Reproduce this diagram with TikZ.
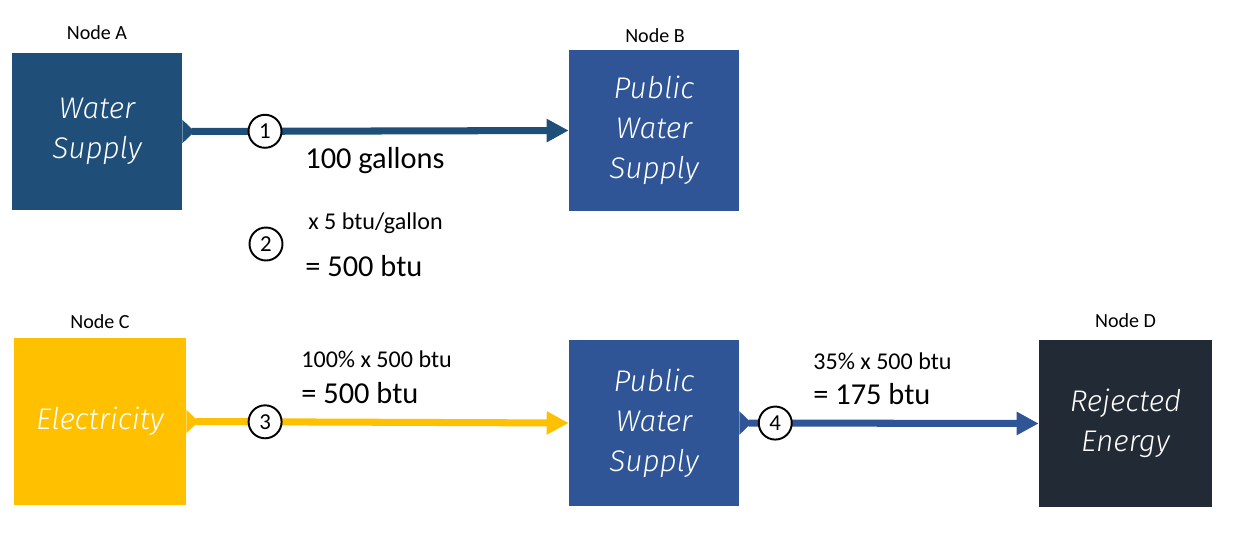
\documentclass[tikz,border=0pt]{standalone}
\usepackage{fontspec}
\setmainfont{Carlito}
\newfontfamily\boxfont{Fira Sans Light Italic}
\usetikzlibrary{arrows.meta}
\definecolor{waterdark}{RGB}{31,78,121}
\definecolor{pwsblue}{RGB}{47,85,151}
\definecolor{elecyellow}{RGB}{255,192,0}
\definecolor{rejdark}{RGB}{34,42,53}

\tikzset{
  box/.style={draw=none, inner sep=0pt, align=center, text=white,
    font=\boxfont\fontsize{17}{22.8}\selectfont},
  nodelabel/.style={anchor=base, inner sep=0pt, font=\fontsize{11.4}{13}\selectfont},
  flow/.style={line width=4pt,
    {Triangle[reversed,length=7pt,width=13pt]}-{Triangle[length=12.5pt,width=12.5pt]}},
  stepnum/.style={circle, draw=black, text=black, line width=1.1pt, fill=white,
    minimum size=0.66cm, inner sep=0pt, font=\fontsize{13}{15}\selectfont},
  calcsmall/.style={anchor=base west, inner sep=0pt, font=\fontsize{13.7}{16}\selectfont},
  calcbig/.style={anchor=base west, inner sep=0pt, font=\fontsize{17.3}{20}\selectfont},
}

\begin{document}
\begin{tikzpicture}[x=0.02cm, y=-0.02cm]
  \useasboundingbox (0,0) rectangle (1237,534);
  %boxes
  \node[box, fill=waterdark, minimum width=3.4cm, minimum height=3.14cm] (A) at (97,131.5) {Water\\Supply};
  \node[box, fill=pwsblue, minimum width=3.4cm, minimum height=3.22cm] (B) at (654,130.5) {Public\\Water\\Supply};
  \node[box, fill=elecyellow, minimum width=3.44cm, minimum height=3.34cm] (C) at (100,421.5) {Electricity};
  \node[box, fill=pwsblue, minimum width=3.4cm, minimum height=3.32cm] (P) at (654,423) {Public\\Water\\Supply};
  \node[box, fill=rejdark, minimum width=3.46cm, minimum height=3.34cm] (D) at (1125.5,423.5) {Rejected\\Energy};

  %labels above
  \node[nodelabel] (labA) at (97,39) {Node A};
  \node[nodelabel] (labB) at (655,42) {Node B};
  \node[nodelabel] (labC) at (100,328) {Node C};
  \node[nodelabel] (labD) at (1125.5,327) {Node D};

  %flows
  \draw[flow, waterdark] (A.east) -- node[stepnum, pos=0.214] (n1) {1} (B.west);
  \draw[flow, elecyellow] (C.east) -- node[stepnum, pos=0.206] (n3) {3} (P.west);
  \draw[flow, pwsblue] (P.east) -- node[stepnum, pos=0.12] (n4) {4} (D.west);
  \node[stepnum] (n2) at (266,244) {2};

  %calculations
  \node[calcbig] (gal) at (305,168) {100 gallons};
  \node[calcsmall] (conv) at (308,229) {x 5 btu/gallon};
  \node[calcbig] (btuA) at (305,276) {= 500 btu};
  \node[calcsmall] (elecpct) at (301,367) {100\% x 500 btu};
  \node[calcbig] (btuC) at (301,403) {= 500 btu};
  \node[calcsmall] (rejpct) at (813,369) {35\% x 500 btu};
  \node[calcbig] (btuD) at (813,404) {= 175 btu};
\end{tikzpicture}
\end{document}
